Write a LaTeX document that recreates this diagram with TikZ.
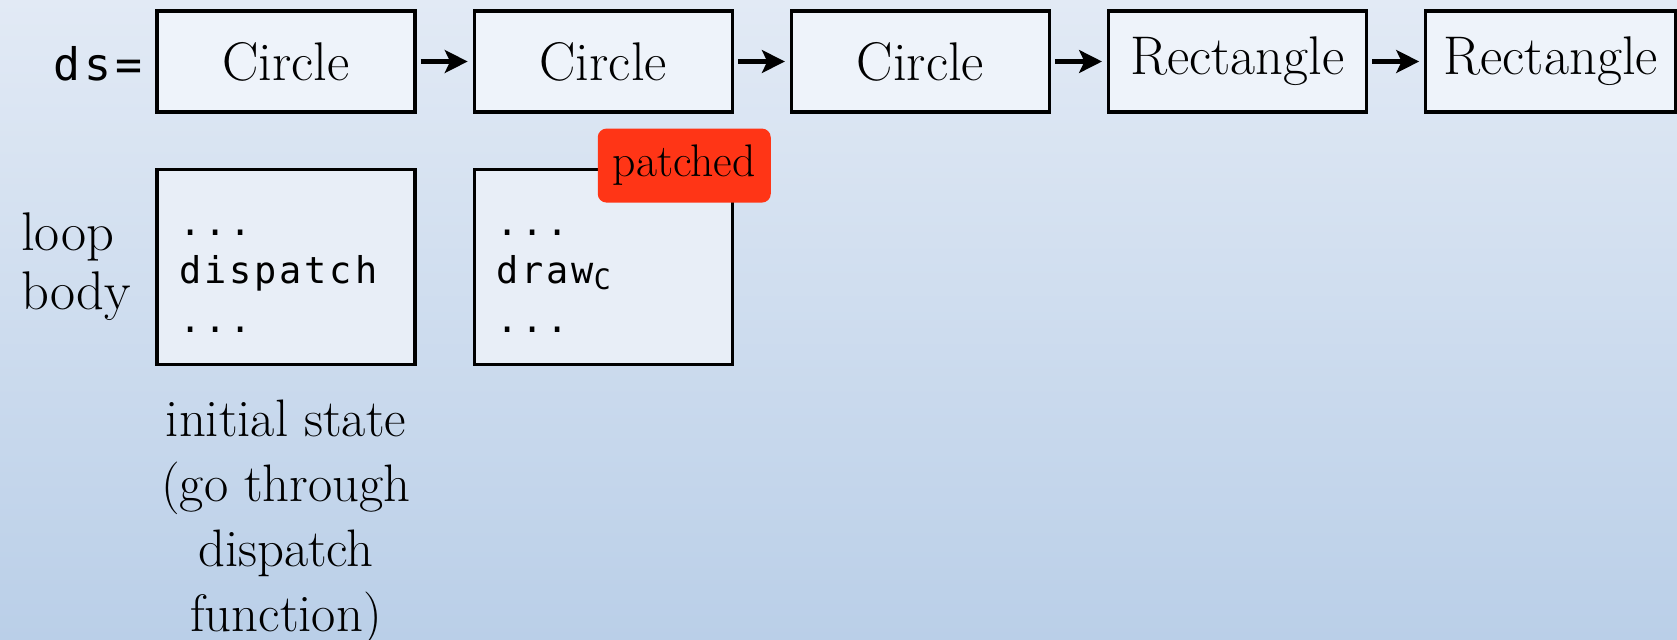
\documentclass[tikz,border=0pt]{standalone}
\usepackage{fontspec}
\newfontfamily\codefont[LetterSpace=8]{DejaVu Sans Mono}
\usetikzlibrary{arrows.meta, positioning}
\definecolor{bgtop}{HTML}{E2EAF5}
\definecolor{bgbot}{HTML}{BACFE8}
\definecolor{objfill}{HTML}{EEF3FA}
\definecolor{bodyfill}{HTML}{E8EEF7}
\definecolor{patchred}{HTML}{FF3516}
\tikzstyle{obj} = [rectangle, draw, line width=1.8pt, fill=objfill, minimum width=5.16cm, minimum height=2.02cm, font=\fontsize{31}{36}\selectfont]
\tikzstyle{code} = [rectangle, draw, line width=1.8pt, fill=bodyfill, minimum height=3.9cm, text width=4.28cm, inner sep=0.44cm, align=left, font=\codefont\fontsize{21}{27.6}\selectfont]
\tikzstyle{next} = [line width=2.3pt, -{Stealth[length=13pt, width=13pt, inset=3pt]}, shorten <=2.3pt, shorten >=2.8pt]
\tikzstyle{badge} = [rectangle, rounded corners=5pt, fill=patchred, minimum width=3.46cm, minimum height=1.48cm, font=\fontsize{26}{30}\selectfont]
\tikzstyle{caption} = [align=center, inner sep=0pt, font=\fontsize{30}{37}\selectfont]

\begin{document}
\begin{tikzpicture}[node distance=1.12cm]
  \shade [top color=bgtop, bottom color=bgbot] (0,0) rectangle (33.54,-12.78);
  \useasboundingbox (0,0) rectangle (33.54,-12.78);
  % the data structure
  \node (c1) [obj] at (5.72,-1.23) {Circle};
  \node (c2) [obj, right=of c1] {Circle};
  \node (c3) [obj, right=of c2] {Circle};
  \node (r1) [obj, right=of c3] {Rectangle};
  \node (r2) [obj, right=of r1, minimum width=5.0cm] {Rectangle};
  \node (ds) [anchor=base east, inner sep=0pt, font=\codefont\fontsize{25.5}{30}\selectfont] at ([xshift=-0.26cm]c1.base west) {ds=};
  \foreach \a/\b in {c1/c2, c2/c3, c3/r1, r1/r2}
    \draw [next] (\a) -- (\b);
  % loop bodies
  \node (body1) [code, below=1.08cm of c1] {\strut...\\dispatch\\...};
  \node (body2) [code, below=1.08cm of c2] {\strut...\\draw\raisebox{-0.3ex}{\fontsize{16}{16}\selectfont C}\\...};
  \node (patch) [badge] at ([xshift=-0.99cm, yshift=0.04cm]body2.north east) {patched};
  \node (loop) [left=0.48cm of body1, align=left, inner sep=0pt, font=\fontsize{31}{34}\selectfont] {loop\\body};
  \node (init) [caption, below=0.68cm of body1] {initial state\\(go through\\dispatch\\function)};
\end{tikzpicture}
\end{document}
